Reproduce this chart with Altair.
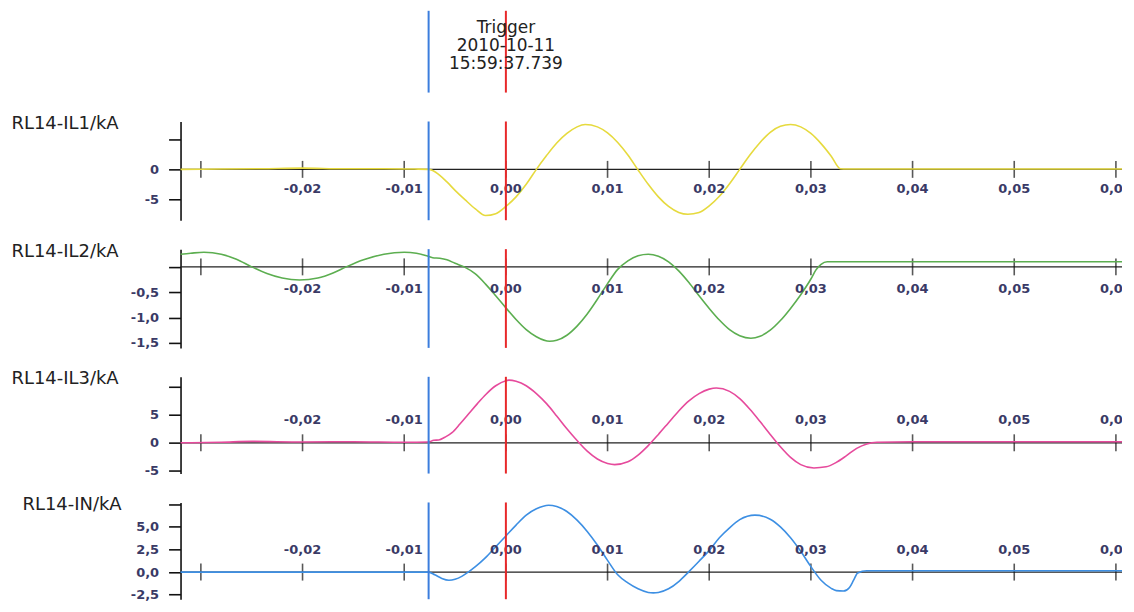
import altair as alt
import pandas as pd

# ---------------- data ----------------
X_DOMAIN = [-0.0320, 0.0606]
X_TICKS = [-0.03, -0.02, -0.01, 0.00, 0.01, 0.02, 0.03, 0.04, 0.05, 0.06]
X_LABEL_T = [-0.02, -0.01, 0.00, 0.01, 0.02, 0.03, 0.04, 0.05, 0.06]
X_LABELS = ["-0,02", "-0,01", "0,00", "0,01", "0,02", "0,03", "0,04", "0,05", "0,06"]

FAULT_T = -0.0076
TRIGGER_T = 0.0
TRIGGER_LINES = ["Trigger", "2010-10-11", "15:59:37.739"]

IL1_T = [-0.0320, -0.0280, -0.0240, -0.0200, -0.0160, -0.0120, -0.0090, -0.0076, -0.0072,
         -0.0065, -0.0058, -0.0050, -0.0040, -0.0030, -0.0020, -0.0010, 0.0000, 0.0010,
         0.0020, 0.0030, 0.0040, 0.0050, 0.0060, 0.0070, 0.0078, 0.0090, 0.0100, 0.0110,
         0.0120, 0.0130, 0.0140, 0.0150, 0.0160, 0.0170, 0.0179, 0.0190, 0.0200, 0.0210,
         0.0220, 0.0230, 0.0240, 0.0250, 0.0260, 0.0270, 0.0280, 0.0290, 0.0300, 0.0310,
         0.0320, 0.0329, 0.0335, 0.0606]
IL1_V = [0.0, 0.05, 0.1, 0.2, 0.1, 0.1, 0.05, 0.0, -0.2,
         -1.0, -2.1, -3.5, -5.1, -6.6, -7.7, -7.4, -6.2, -4.6,
         -2.5, 0.0, 2.3, 4.4, 6.0, 7.1, 7.5, 7.1, 6.1, 4.5,
         2.4, -0.1, -2.5, -4.6, -6.2, -7.2, -7.5, -7.2, -6.1, -4.5,
         -2.4, 0.0, 2.4, 4.5, 6.2, 7.2, 7.5, 7.1, 6.0, 4.3,
         2.2, 0.1, 0.05, 0.05]

IL2_T = [-0.0320, -0.0310, -0.0297, -0.0280, -0.0265, -0.0250, -0.0235, -0.0220, -0.0203,
         -0.0185, -0.0170, -0.0157, -0.0140, -0.0120, -0.0100, -0.0088, -0.0078, -0.0072,
         -0.0065, -0.0058, -0.0050, -0.0041, -0.0030, -0.0020, -0.0010, 0.0000, 0.0010,
         0.0020, 0.0030, 0.0043, 0.0050, 0.0060, 0.0070, 0.0080, 0.0090, 0.0100, 0.0110,
         0.0120, 0.0130, 0.0140, 0.0150, 0.0160, 0.0170, 0.0180, 0.0190, 0.0200, 0.0210,
         0.0220, 0.0230, 0.0241, 0.0250, 0.0260, 0.0270, 0.0280, 0.0290, 0.0300, 0.0305,
         0.0310, 0.0316, 0.0606]
IL2_V = [0.25, 0.27, 0.29, 0.25, 0.15, 0.0, -0.13, -0.22, -0.26,
         -0.22, -0.12, 0.0, 0.14, 0.25, 0.29, 0.27, 0.22, 0.18,
         0.17, 0.14, 0.07, 0.0, -0.14, -0.34, -0.57, -0.81, -1.04,
         -1.24, -1.38, -1.47, -1.45, -1.35, -1.17, -0.93, -0.64, -0.33, -0.05,
         0.12, 0.22, 0.25, 0.21, 0.10, -0.08, -0.31, -0.57, -0.82, -1.05,
         -1.24, -1.36, -1.41, -1.37, -1.25, -1.06, -0.82, -0.55, -0.24, -0.06,
         0.05, 0.10, 0.10]

IL3_T = [-0.0320, -0.0280, -0.0250, -0.0200, -0.0150, -0.0100, -0.0076, -0.0071, -0.0066,
         -0.0060, -0.0053, -0.0045, -0.0037, -0.0028, -0.0020, -0.0010, 0.0000, 0.0003,
         0.0010, 0.0020, 0.0030, 0.0040, 0.0050, 0.0060, 0.0070, 0.0080, 0.0090, 0.0100,
         0.0107, 0.0120, 0.0130, 0.0140, 0.0150, 0.0160, 0.0170, 0.0180, 0.0190, 0.0200,
         0.0207, 0.0220, 0.0230, 0.0240, 0.0250, 0.0260, 0.0270, 0.0280, 0.0290, 0.0303,
         0.0315, 0.0325, 0.0335, 0.0345, 0.0355, 0.0365, 0.0400, 0.0606]
IL3_V = [0.0, 0.1, 0.25, 0.15, 0.2, 0.1, 0.15, 0.45, 0.5,
         1.0, 1.8, 3.4, 5.1, 7.0, 8.6, 10.2, 11.1, 11.2,
         11.0, 10.2, 8.8, 7.0, 4.8, 2.5, 0.4, -1.5, -2.9, -3.7,
         -3.9, -3.4, -2.2, -0.5, 1.5, 3.6, 5.7, 7.5, 8.8, 9.6,
         9.8, 9.2, 7.9, 6.0, 3.8, 1.5, -0.7, -2.6, -3.9, -4.5,
         -4.3, -3.5, -2.3, -1.0, -0.2, 0.1, 0.2, 0.2]

IN_T = [-0.0320, -0.0076, -0.0070, -0.0063, -0.0056, -0.0050, -0.0043, -0.0037, -0.0030,
        -0.0020, -0.0010, 0.0000, 0.0010, 0.0020, 0.0030, 0.0042, 0.0050, 0.0060,
        0.0070, 0.0080, 0.0090, 0.0100, 0.0110, 0.0120, 0.0130, 0.0140, 0.0145, 0.0150,
        0.0160, 0.0170, 0.0180, 0.0190, 0.0200, 0.0210, 0.0220, 0.0230, 0.0245, 0.0260,
        0.0270, 0.0280, 0.0290, 0.0300, 0.0310, 0.0320, 0.0325, 0.0332, 0.0338, 0.0342,
        0.0346, 0.0355, 0.0606]
IN_V = [0.0, 0.0, -0.3, -0.7, -0.9, -0.8, -0.45, 0.0, 0.6,
        1.6, 2.8, 4.0, 5.2, 6.3, 7.0, 7.4, 7.25, 6.7,
        5.75, 4.5, 3.0, 1.3, -0.3, -1.2, -1.85, -2.25, -2.3, -2.25,
        -1.85, -1.05, 0.05, 1.2, 2.4, 3.8, 4.9, 5.8, 6.3, 5.85,
        5.0, 3.8, 2.3, 0.6, -0.9, -1.8, -2.05, -2.1, -1.7, -0.9,
        -0.1, 0.15, 0.15]

Y1_DOMAIN = [-8.5, 8.0]
Y1_TICKS = [5, 0, -5]
Y1_LABELS = ["", "0", "-5"]
Y2_DOMAIN = [-1.6, 0.35]
Y2_TICKS = [0, -0.5, -1.0, -1.5]
Y2_LABELS = ["", "-0,5", "-1,0", "-1,5"]
Y3_DOMAIN = [-5.5, 11.8]
Y3_TICKS = [10, 5, 0, -5]
Y3_LABELS = ["", "5", "0", "-5"]
Y4_DOMAIN = [-3.0, 7.7]
Y4_TICKS = [7.5, 5.0, 2.5, 0.0, -2.5]
Y4_LABELS = ["", "5,0", "2,5", "0,0", "-2,5"]

# ---------------- styling ----------------
FONT = "DejaVu Sans"
LABEL_COLOR = "#3a3a66"
PLOT_W = 944
BLUE_LINE = "#3b7ddd"
RED_LINE = "#e8282a"


def x_enc():
    return alt.X("t:Q", scale=alt.Scale(domain=X_DOMAIN, nice=False, zero=False), axis=None)


def label_expr(ticks, labels):
    parts = [f"datum.value == {tv} ? '{lab}' : " for tv, lab in zip(ticks, labels)]
    return "".join(parts) + "''"


def panel(name, t, v, color, ydom, yticks, ylabels, label_dy, height, title_x):
    yscale = alt.Scale(domain=ydom, nice=False, zero=False)
    yaxis = alt.Axis(values=yticks, labelExpr=label_expr(yticks, ylabels), title=name,
                     titleAngle=0, titleAlign="left", titleBaseline="middle",
                     titleX=title_x, titleY=2, grid=False)

    def y_enc(field):
        return alt.Y(f"{field}:Q", scale=yscale, axis=yaxis)

    zero_df = pd.DataFrame({"v": [0.0]})
    ticks_df = pd.DataFrame({"t": X_TICKS, "v": [0.0] * len(X_TICKS)})
    labels_df = pd.DataFrame({"t": X_LABEL_T, "v": [0.0] * len(X_LABEL_T), "label": X_LABELS})
    curve_df = pd.DataFrame({"t": t, "v": v})

    zero = alt.Chart(zero_df).mark_rule(color="#222222", strokeWidth=1.3).encode(y=y_enc("v"))
    ticks = alt.Chart(ticks_df).mark_tick(orient="vertical", size=17, thickness=1.6,
                                          color="#111111").encode(x=x_enc(), y=y_enc("v"))
    curve = alt.Chart(curve_df).mark_line(color=color, strokeWidth=1.6,
                                          interpolate="monotone").encode(x=x_enc(), y=y_enc("v"))
    labels = alt.Chart(labels_df).mark_text(dy=label_dy, font=FONT, fontSize=13, fontWeight="bold",
                                            color=LABEL_COLOR, clip=True).encode(
        x=x_enc(), y=y_enc("v"), text="label:N")
    fault = alt.Chart(pd.DataFrame({"t": [FAULT_T]})).mark_rule(
        color=BLUE_LINE, strokeWidth=2).encode(x=x_enc())
    trig = alt.Chart(pd.DataFrame({"t": [TRIGGER_T]})).mark_rule(
        color=RED_LINE, strokeWidth=2).encode(x=x_enc())
    return alt.layer(zero, ticks, curve, labels, fault, trig).properties(width=PLOT_W, height=height)


header_df = pd.DataFrame({"t": [TRIGGER_T], "label": ["\n".join(TRIGGER_LINES)]})
h_fault = alt.Chart(pd.DataFrame({"t": [FAULT_T]})).mark_rule(color=BLUE_LINE, strokeWidth=2).encode(x=x_enc())
h_trig = alt.Chart(pd.DataFrame({"t": [TRIGGER_T]})).mark_rule(color=RED_LINE, strokeWidth=2).encode(x=x_enc())
h_text = alt.Chart(header_df).mark_text(lineBreak="\n", baseline="top", align="center", lineHeight=18,
                                        fontSize=17, font=FONT, color="#222222").encode(
    x=x_enc(), y=alt.value(9), text="label:N")
header = alt.layer(h_fault, h_trig, h_text).properties(width=PLOT_W, height=82)

p1 = panel("RL14-IL1/kA", IL1_T, IL1_V, "#e6da3e", Y1_DOMAIN, Y1_TICKS, Y1_LABELS, 20, 99, -170)
p2 = panel("RL14-IL2/kA", IL2_T, IL2_V, "#5cae50", Y2_DOMAIN, Y2_TICKS, Y2_LABELS, 22, 99, -170)
p3 = panel("RL14-IL3/kA", IL3_T, IL3_V, "#e64a9c", Y3_DOMAIN, Y3_TICKS, Y3_LABELS, -23, 97, -170)
p4 = panel("RL14-IN/kA", IN_T, IN_V, "#3d8fe3", Y4_DOMAIN, Y4_TICKS, Y4_LABELS, -22, 97, -159)

chart = alt.vconcat(header, p1, p2, p3, p4, spacing=29, bounds="flush").properties(
    padding={"left": 3, "top": 1, "right": 0, "bottom": 0}
).configure_view(stroke=None).configure_axis(
    labelFont=FONT, labelFontSize=13, labelFontWeight="bold", labelColor=LABEL_COLOR,
    titleFont=FONT, titleFontSize=18, titleFontWeight="normal", titleColor="#222222",
    domainColor="#111111", domainWidth=1.6, tickColor="#111111", tickWidth=1.6,
    tickSize=12, labelPadding=10
)

chart.save("out.html", embed_options={"renderer": "svg", "actions": False})
